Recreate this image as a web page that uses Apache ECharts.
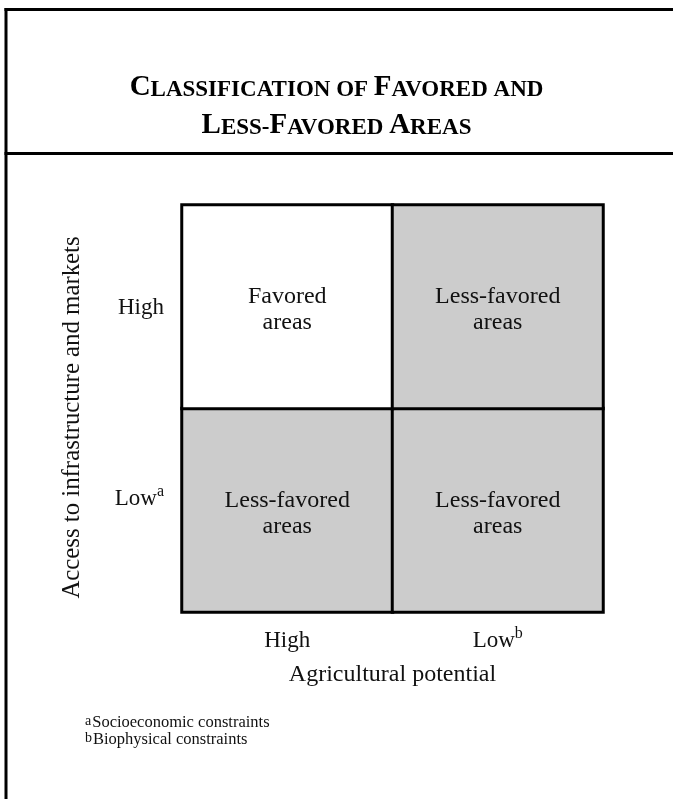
<!DOCTYPE html>
<html>
<head>
<meta charset="utf-8">
<script src="https://cdn.jsdelivr.net/npm/echarts@6/dist/echarts.min.js"></script>
<style>
html,body{margin:0;padding:0;background:#fff;}
#chart{width:673px;height:799px;}
</style>
</head>
<body>
<div id="chart"></div>
<script>
// ---- data ----
const xCategories = ['High', 'Low'];
const xSuperscripts = ['', 'b'];
const yCategories = ['Low', 'High'];          // bottom to top
const ySuperscripts = ['a', ''];
const cellLabels = [                            // [yIndex][xIndex]
  ['Less-favored\nareas', 'Less-favored\nareas'],
  ['Favored\nareas', 'Less-favored\nareas']
];
const cellFavored = [                           // 1 = favored, 0 = less-favored
  [0, 0],
  [1, 0]
];
const titleLines = [
  '{L|C}{s|LASSIFICATION OF }{L|F}{s|AVORED AND}',
  '{L|L}{s|ESS-}{L|F}{s|AVORED }{L|A}{s|REAS}'
];
const xAxisTitle = 'Agricultural potential';
const yAxisTitle = 'Access to infrastructure and markets';
const footnotes = [['a', 'Socioeconomic constraints'], ['b', 'Biophysical constraints']];

const FONT = "'Liberation Serif', 'Times New Roman', serif";

const seriesData = [];
for (let yi = 0; yi < yCategories.length; yi++) {
  for (let xi = 0; xi < xCategories.length; xi++) {
    seriesData.push({ name: cellLabels[yi][xi], value: [xi, yi, cellFavored[yi][xi]] });
  }
}

const labelRich = {
  base: { fontFamily: FONT, fontSize: 23, color: '#111', lineHeight: 26, verticalAlign: 'bottom' },
  sup: { fontFamily: FONT, fontSize: 16, color: '#111', lineHeight: 26, verticalAlign: 'top' },
  gap: { fontSize: 1, lineHeight: 26 }
};
const titleRich = {
  L: { fontFamily: FONT, fontSize: 29, fontWeight: 'bold', color: '#000', lineHeight: 34, verticalAlign: 'bottom' },
  s: { fontFamily: FONT, fontSize: 23, fontWeight: 'bold', color: '#000', lineHeight: 34, verticalAlign: 'bottom' }
};

const chart = echarts.init(document.getElementById('chart'), null, { renderer: 'canvas' });
chart.setOption({
  backgroundColor: '#fff',
  animation: false,
  title: [
    { left: 'center', top: 63, text: titleLines[0], textStyle: { fontFamily: FONT, rich: titleRich } },
    { left: 'center', top: 101, text: titleLines[1], textStyle: { fontFamily: FONT, rich: titleRich } },
    {
      left: 80,
      top: 709,
      text: footnotes.map(f => '{sup|' + f[0] + '}{t|' + f[1] + '}').join('\n'),
      textStyle: {
        fontWeight: 'normal',
        rich: {
          t: { fontFamily: FONT, fontSize: 16.5, fontWeight: 'normal', color: '#111', lineHeight: 17, verticalAlign: 'bottom' },
          sup: { fontFamily: FONT, fontSize: 14, fontWeight: 'normal', color: '#111', lineHeight: 17, verticalAlign: 'top', padding: [0, 1, 0, 0] }
        }
      }
    }
  ],
  graphic: [
    { type: 'line', shape: { x1: 4.5, y1: 9.5, x2: 673, y2: 9.5 }, style: { stroke: '#000', lineWidth: 3 } },
    { type: 'line', shape: { x1: 6, y1: 8, x2: 6, y2: 799 }, style: { stroke: '#000', lineWidth: 3 } },
    { type: 'line', shape: { x1: 4.5, y1: 153.5, x2: 673, y2: 153.5 }, style: { stroke: '#000', lineWidth: 3 } }
  ],
  grid: { left: 182, top: 205, right: 70, bottom: 187, containLabel: false },
  xAxis: {
    type: 'category',
    data: xCategories,
    position: 'bottom',
    axisLine: { show: false },
    axisTick: { show: false },
    splitLine: { show: false },
    axisLabel: {
      margin: 14,
      formatter: (v, i) => '{base|' + v + '}' + (xSuperscripts[i] ? '{sup|' + xSuperscripts[i] + '}' : ''),
      rich: labelRich
    },
    name: xAxisTitle,
    nameLocation: 'middle',
    nameGap: 51,
    nameTextStyle: { fontFamily: FONT, fontSize: 24, color: '#111' }
  },
  yAxis: {
    type: 'category',
    data: yCategories,
    axisLine: { show: false },
    axisTick: { show: false },
    splitLine: { show: false },
    axisLabel: {
      margin: 18,
      // lower row label sits level with the first line of its cell text
      formatter: (v, i) => '{base|' + v + '}' + (ySuperscripts[i] ? '{sup|' + ySuperscripts[i] + '}\n{gap| }' : ''),
      rich: labelRich
    },
    name: yAxisTitle,
    nameLocation: 'middle',
    nameGap: 97,
    nameRotate: 90,
    nameTextStyle: { fontFamily: FONT, fontSize: 24.8, color: '#111', padding: [0, 18, 0, 0] }
  },
  visualMap: {
    show: false,
    type: 'piecewise',
    dimension: 2,
    pieces: [{ value: 1, color: '#ffffff' }, { value: 0, color: '#cccccc' }]
  },
  series: [{
    type: 'heatmap',
    data: seriesData,
    itemStyle: { borderColor: '#000', borderWidth: 3 },
    label: {
      show: true,
      formatter: p => p.name,
      fontFamily: FONT,
      fontSize: 24,
      lineHeight: 26,
      offset: [0, 3],
      color: '#111'
    },
    emphasis: { disabled: true }
  }]
});
</script>
</body>
</html>
